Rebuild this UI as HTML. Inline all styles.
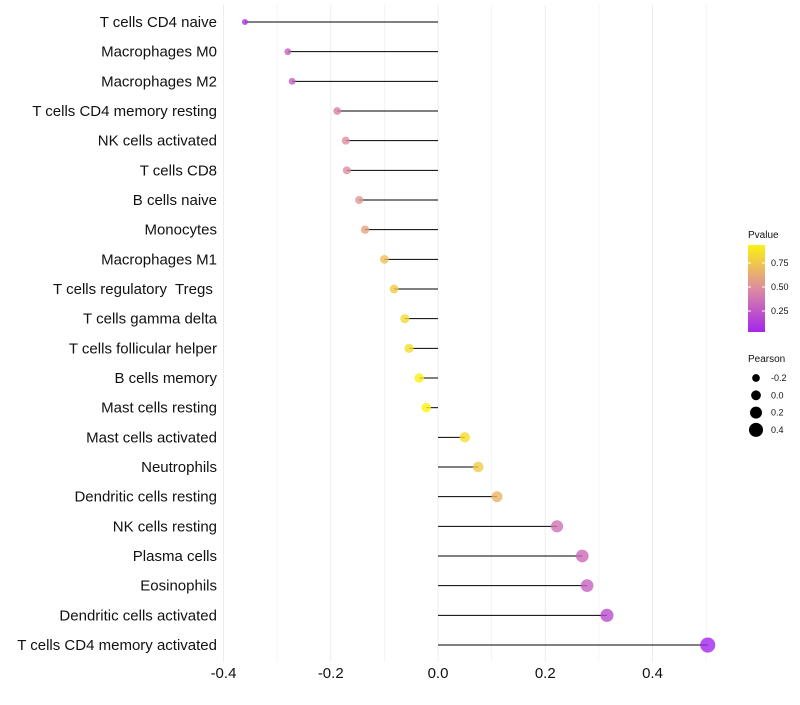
<!DOCTYPE html>
<html><head><meta charset="utf-8"><style>
body{margin:0;background:#fff;font-family:"Liberation Sans",sans-serif}
text{white-space:pre}
</style></head><body>
<svg id="chart" width="800" height="700" xmlns="http://www.w3.org/2000/svg" font-family="Liberation Sans, sans-serif"></svg>
<script>
const categories=["T cells CD4 naive","Macrophages M0","Macrophages M2","T cells CD4 memory resting","NK cells activated","T cells CD8","B cells naive","Monocytes","Macrophages M1","T cells regulatory  Tregs ","T cells gamma delta","T cells follicular helper","B cells memory","Mast cells resting","Mast cells activated","Neutrophils","Dendritic cells resting","NK cells resting","Plasma cells","Eosinophils","Dendritic cells activated","T cells CD4 memory activated"];
const pearson=[-0.36,-0.28,-0.272,-0.188,-0.172,-0.17,-0.147,-0.136,-0.10,-0.082,-0.062,-0.054,-0.035,-0.022,0.05,0.075,0.11,0.222,0.269,0.278,0.315,0.503];
const pvalues=[0.08,0.3,0.3,0.45,0.5,0.5,0.55,0.6,0.72,0.78,0.84,0.86,0.93,0.95,0.86,0.78,0.68,0.38,0.34,0.3,0.2,0.02];
const xTicks=[-0.4,-0.2,0.0,0.2,0.4];
const pTicks=[0.25,0.5,0.75];
const sizeTicks=[-0.2,0.0,0.2,0.4];
const NS="http://www.w3.org/2000/svg";
const svg=document.getElementById('chart');
const X=v=>438+v*536.25;
const Y=i=>22+i*29.667;
const R=p=>Math.max(1.8,4.9+5.3*p);
function col(t){const s=[[160,32,240],[222,140,160],[255,255,0]];let a,b,u;if(t<0.5){a=s[0];b=s[1];u=t/0.5}else{a=s[1];b=s[2];u=(t-0.5)/0.5}return 'rgb('+a.map((v,k)=>Math.round(v+(b[k]-v)*u)).join(',')+')'}
function el(tag,at,txt){const e=document.createElementNS(NS,tag);for(const k in at)e.setAttribute(k,at[k]);if(txt!==undefined)e.textContent=txt;svg.appendChild(e);return e}
for(let v=-0.4;v<=0.5001;v+=0.1){const g=el('line',{x1:X(v),x2:X(v),y1:5,y2:662,stroke:'#ededed','stroke-width':Math.abs(Math.round(v*10))%2==0?1:0.6});
}
xTicks.forEach(v=>{const t=el('text',{x:X(v),y:678,'text-anchor':'middle','font-size':15,fill:'#111'},v.toFixed(1));
});
categories.forEach((c,i)=>{
const t=el('text',{x:217,y:Y(i)+5,'text-anchor':'end','font-size':15,fill:'#111'},c);

const l=el('line',{x1:X(0),x2:X(pearson[i]),y1:Y(i),y2:Y(i),stroke:'#000','stroke-width':1});

const d=el('circle',{cx:X(pearson[i]),cy:Y(i),r:R(pearson[i]),fill:col(pvalues[i]),'fill-opacity':0.8});

});
const lt=el('text',{x:748,y:238,'font-size':10,fill:'#111'},'Pvalue');

const defs=el('defs',{});const lg=document.createElementNS(NS,'linearGradient');lg.setAttribute('id','pg');lg.setAttribute('x1',0);lg.setAttribute('x2',0);lg.setAttribute('y1',1);lg.setAttribute('y2',0);
[[0,0.03],[0.5,0.5],[1,0.94]].forEach(([o,t])=>{const s=document.createElementNS(NS,'stop');s.setAttribute('offset',o);s.setAttribute('stop-color',col(t));lg.appendChild(s)});defs.appendChild(lg);
const bar=el('rect',{x:748,y:245,width:17,height:87,fill:'url(#pg)'});

pTicks.forEach(p=>{const y=335-p*96;const tl=el('text',{x:771,y:y+3,'font-size':9,fill:'#111'},p.toFixed(2));

el('line',{x1:748,x2:751,y1:y,y2:y,stroke:'#fff'});el('line',{x1:762,x2:765,y1:y,y2:y,stroke:'#fff'});});
const st=el('text',{x:748,y:362,'font-size':10,fill:'#111'},'Pearson');

sizeTicks.forEach((p,k)=>{const y=378+k*17.3;
const c=el('circle',{cx:756,cy:y,r:R(p),fill:'#000'});
const t=el('text',{x:771,y:y+3,'font-size':9,fill:'#111'},p.toFixed(1));});
</script>
</body></html>
